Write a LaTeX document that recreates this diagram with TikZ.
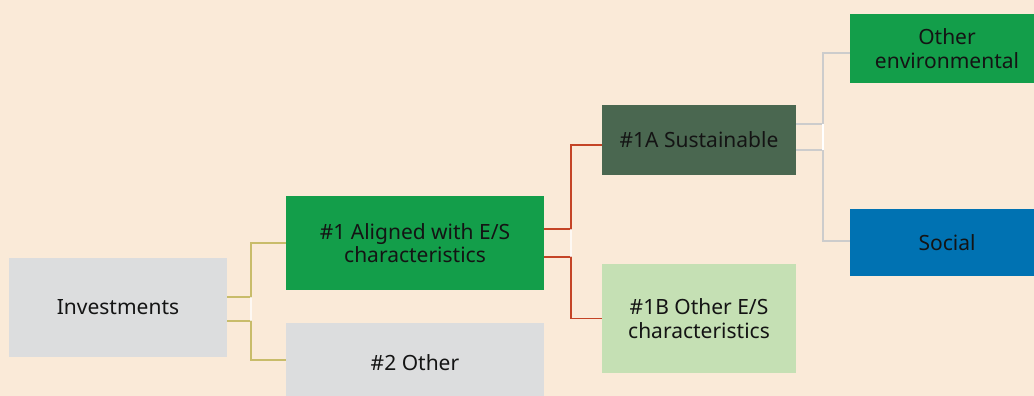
\documentclass[tikz,border=0pt]{standalone}
\usepackage{fontspec}
\setmainfont{Noto Sans}
\definecolor{bg}{RGB}{250,234,216}
\definecolor{boxgray}{RGB}{220,221,222}
\definecolor{esgreen}{RGB}{19,158,74}
\definecolor{darkgreen}{RGB}{74,103,80}
\definecolor{lightgreen}{RGB}{197,224,180}
\definecolor{socblue}{RGB}{0,114,178}
\definecolor{olivec}{RGB}{200,188,106}
\definecolor{redc}{RGB}{196,68,38}
\definecolor{grayc}{RGB}{204,204,204}
\definecolor{txt}{RGB}{20,20,20}
\begin{document}
\begin{tikzpicture}[x=1pt,y=-1pt,
  box/.style={draw=none,inner sep=0pt,align=center,text=txt,
    font=\fontsize{21}{23.5}\selectfont},
  conn/.style={line width=1.6pt},
  gapline/.style={line width=1.6pt,white,opacity=0.7}]
\fill[bg] (0,0) rectangle (1034,396);
\useasboundingbox (0,0) rectangle (1034,396);
% boxes
\node[box,fill=boxgray,minimum width=218pt,minimum height=99pt] (inv) at (118,307.5) {Investments};
\node[box,fill=esgreen,minimum width=258pt,minimum height=94pt] (a1) at (415,243) {\#1 Aligned with E/S\\characteristics};
\node[box,fill=boxgray,minimum width=258pt,minimum height=80pt] (o2) at (415,363) {\#2 Other};
\node[box,fill=darkgreen,minimum width=194pt,minimum height=70pt] (s1a) at (699,140) {\#1A Sustainable};
\node[box,fill=lightgreen,minimum width=194pt,minimum height=109pt] (b1b) at (699,318.5) {\#1B Other E/S\\characteristics};
\node[box,fill=esgreen,minimum width=194pt,minimum height=69pt] (env) at (947,48.5) {Other\\environmental};
\node[box,fill=socblue,minimum width=194pt,minimum height=67pt] (soc) at (947,242.5) {Social};
% olive connectors
\draw[conn,olivec] ([yshift=10.5pt]inv.east) -- ++(24,0) |- (a1.west);
\draw[conn,olivec] ([yshift=-13.5pt]inv.east) -- ++(24,0) |- ([yshift=3pt]o2.west);
\draw[gapline] ([xshift=24pt,yshift=10.5pt]inv.east) -- ([xshift=24pt,yshift=-13.5pt]inv.east);
% red connectors
\draw[conn,redc] ([yshift=14pt]a1.east) -- ++(27,0) |- ([yshift=-5pt]s1a.west);
\draw[conn,redc] ([yshift=-14pt]a1.east) -- ++(27,0) |- (b1b.west);
\draw[gapline] ([xshift=27pt,yshift=14pt]a1.east) -- ([xshift=27pt,yshift=-14pt]a1.east);
% gray connectors
\draw[conn,grayc] ([yshift=16pt]s1a.east) -- ++(27,0) |- ([yshift=-4.5pt]env.west);
\draw[conn,grayc] ([yshift=-10pt]s1a.east) -- ++(27,0) |- ([yshift=1.5pt]soc.west);
\draw[gapline,opacity=1] ([xshift=27pt,yshift=16pt]s1a.east) -- ([xshift=27pt,yshift=-10pt]s1a.east);
\end{tikzpicture}
\end{document}
